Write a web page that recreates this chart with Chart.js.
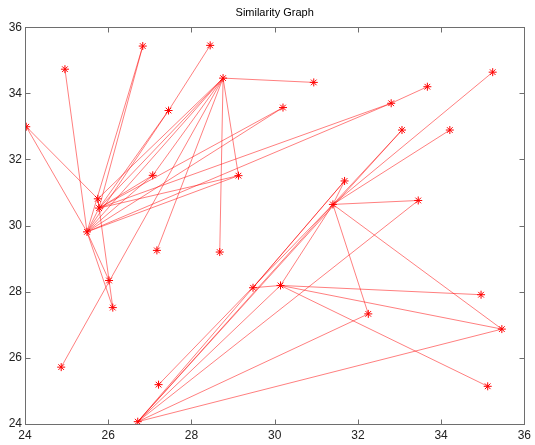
<!DOCTYPE html>
<html>
<head>
<meta charset="utf-8">
<script src="https://cdn.jsdelivr.net/npm/chart.js@4/dist/chart.umd.min.js"></script>
<style>
  html, body { margin: 0; padding: 0; background: #fff; }
  #wrap { width: 535px; height: 445px; }
</style>
</head>
<body>
<div id="wrap"><canvas id="chart" width="535" height="445"></canvas></div>
<script>
// nodes of the graph
const nodeNames = ['A','B','C','D','E','F','G','H','I','J','K','L','M','N','O','P','Q',
                   'R','S','T','U','V','W','X','Y','Z','AA','AB','AC','AD','AE','AF','AG','AH'];
const nodeX = [26.83, 28.45, 24.96, 28.76, 27.45, 24.03, 27.07, 29.13, 25.75, 25.78, 25.49,
               30.94, 30.20, 32.80, 33.67, 35.24, 33.06, 34.21, 31.68, 31.40, 33.45, 27.17,
               28.68, 26.02, 26.11, 24.87, 27.21, 26.71, 29.48, 30.14, 32.25, 34.96, 35.46, 35.12];
const nodeY = [35.43, 35.45, 34.73, 34.46, 33.48, 32.99, 31.52, 31.51, 30.81, 30.53, 29.81,
               34.33, 33.57, 33.70, 34.20, 34.64, 32.89, 32.89, 31.35, 30.64, 30.76, 29.25,
               29.20, 28.34, 27.52, 25.72, 25.19, 24.07, 28.12, 28.19, 27.33, 27.91, 26.87, 25.14];

// edges (pairs of node names)
const edgeFrom = ['C','F','F','A','A','B','E','E','D','D','D','D','D','D','D','D','D',
                  'M','M','N','N','N','H','H','G','G','K','K','I','K','I',
                  'AB','AB','AB','AB','AB','AB','AB','AA','AC','AC','AD','AD','AD','AD',
                  'T','T','T','T','T','T','T'];
const edgeTo   = ['K','K','I','K','J','E','K','J','L','H','W','K','J','I','G','V','Z',
                  'J','K','O','K','J','K','J','K','J','X','Y','Y','J','J',
                  'T','S','Q','U','AD','AE','AG','T','S','AD','T','AF','AG','AH',
                  'AE','AG','U','Q','R','P','S'];

const xTicks = [24, 26, 28, 30, 32, 34, 36];
const yTicks = [24, 26, 28, 30, 32, 34, 36];

const FONT = "Arial, 'Liberation Sans', Helvetica, sans-serif";

function node(name) {
  const i = nodeNames.indexOf(name);
  return { x: nodeX[i], y: nodeY[i] };
}

const datasets = [];
for (let i = 0; i < edgeFrom.length; i++) {
  datasets.push({
    data: [node(edgeFrom[i]), node(edgeTo[i])],
    showLine: true,
    borderColor: 'rgba(255,0,0,0.5)',
    borderWidth: 1,
    pointRadius: 0,
    fill: false
  });
}
datasets.push({
  data: nodeNames.map(n => node(n)),
  showLine: false,
  pointStyle: 'star',
  pointRadius: 4,
  borderColor: '#ff0000',
  backgroundColor: '#ff0000',
  borderWidth: 1
});

// box around the axes with inward ticks on all sides
const frame = {
  id: 'frame',
  afterDraw(chart) {
    const { ctx, chartArea: a, scales } = chart;
    const L = Math.round(a.left) + 0.5, R = Math.round(a.right) + 0.5;
    const T = Math.round(a.top) + 0.5, B = Math.round(a.bottom) + 0.5;
    ctx.save();
    ctx.strokeStyle = '#6e6e6e';
    ctx.lineWidth = 1;
    ctx.strokeRect(L, T, R - L, B - T);
    ctx.beginPath();
    xTicks.forEach(v => {
      const px = Math.round(scales.x.getPixelForValue(v)) + 0.5;
      ctx.moveTo(px, B); ctx.lineTo(px, B - 5);
      ctx.moveTo(px, T); ctx.lineTo(px, T + 5);
    });
    yTicks.forEach(v => {
      const py = Math.round(scales.y.getPixelForValue(v)) + 0.5;
      ctx.moveTo(L, py); ctx.lineTo(L + 5, py);
      ctx.moveTo(R, py); ctx.lineTo(R - 5, py);
    });
    ctx.stroke();
    ctx.restore();
  }
};

new Chart(document.getElementById('chart'), {
  type: 'scatter',
  data: { datasets },
  options: {
    responsive: false,
    animation: false,
    devicePixelRatio: 1,
    layout: { padding: { left: 0, right: 6, top: 0, bottom: 0 } },
    plugins: {
      legend: { display: false },
      tooltip: { enabled: false },
      title: {
        display: true,
        text: 'Similarity Graph',
        fullSize: false,
        color: '#000',
        font: { family: FONT, size: 11, weight: 'normal', lineHeight: 1.2 },
        padding: { top: 6, bottom: 8 }
      }
    },
    scales: {
      x: {
        type: 'linear',
        min: 24, max: 36,
        afterBuildTicks: s => { s.ticks = xTicks.map(v => ({ value: v })); },
        afterFit: s => { s.height = 21; },
        grid: { display: false, drawTicks: false },
        border: { display: false },
        ticks: { color: '#222', padding: 4, maxRotation: 0, font: { family: FONT, size: 12 } }
      },
      y: {
        type: 'linear',
        min: 24, max: 36,
        afterBuildTicks: s => { s.ticks = yTicks.map(v => ({ value: v })); },
        afterFit: s => { s.width = 25; },
        grid: { display: false, drawTicks: false },
        border: { display: false },
        ticks: { color: '#222', padding: 3, font: { family: FONT, size: 12 } }
      }
    }
  },
  plugins: [frame]
});
</script>
</body>
</html>
